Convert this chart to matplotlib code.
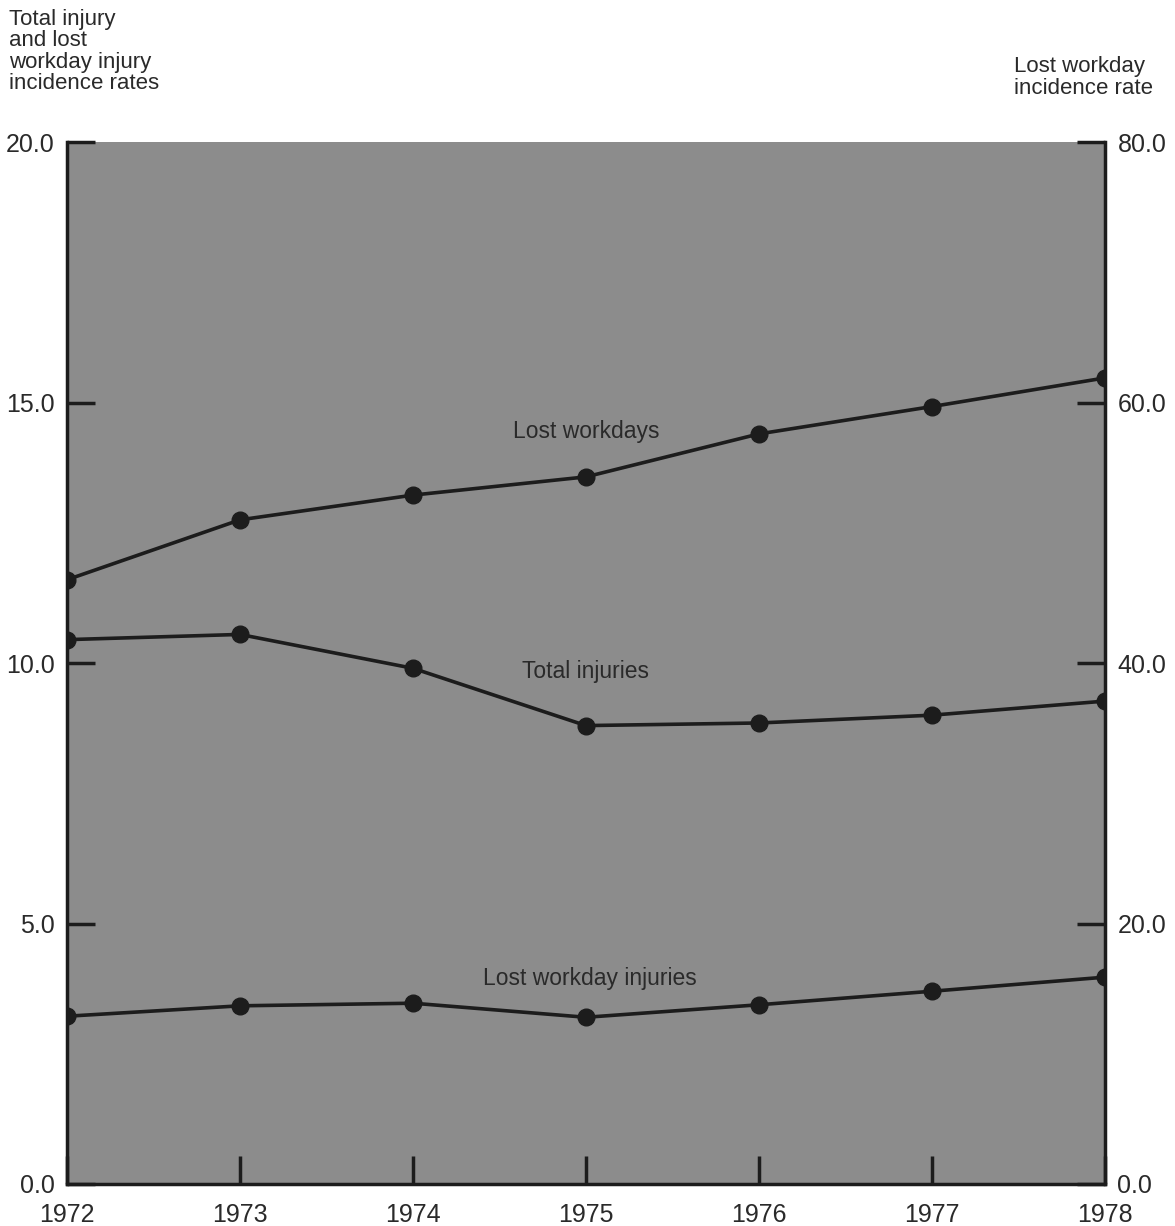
import matplotlib.pyplot as plt

years = [1972, 1973, 1974, 1975, 1976, 1977, 1978]
total_injuries = [10.45, 10.55, 9.9, 8.8, 8.85, 9.0, 9.27]
lost_workday_injuries = [3.22, 3.42, 3.47, 3.2, 3.44, 3.7, 3.97]
lost_workdays = [46.4, 51.0, 52.9, 54.3, 57.6, 59.7, 61.9]

left_ticks = [0, 5, 10, 15, 20]
right_ticks = [0, 20, 40, 60, 80]

plt.rcParams['font.family'] = ['Liberation Sans', 'DejaVu Sans']
ink = '#1c1c1c'
txt = '#2a2a2a'

fig = plt.figure(figsize=(11.75, 12.26), dpi=100)
ax = fig.add_axes([0.057, 0.0343, 0.8834, 0.8497])
ax.set_facecolor('#8c8c8c')
ax2 = ax.twinx()

ax.plot(years, total_injuries, color=ink, lw=2.6, marker='o', ms=12)
ax.plot(years, lost_workday_injuries, color=ink, lw=2.6, marker='o', ms=12)
ax2.plot(years, lost_workdays, color=ink, lw=2.6, marker='o', ms=12)

for a in (ax, ax2):
    a.set_xlim(1972, 1978)
    for s in a.spines.values():
        s.set_visible(False)
    a.tick_params(direction='in', length=20, width=2.5, color=ink,
                  labelsize=18, labelcolor=txt)
ax.spines['left'].set_visible(True)
ax.spines['bottom'].set_visible(True)
ax2.spines['right'].set_visible(True)
for s in (ax.spines['left'], ax.spines['bottom'], ax2.spines['right']):
    s.set_linewidth(2.5)
    s.set_color(ink)

ax.set_ylim(0, 20)
ax.set_yticks(left_ticks)
ax.set_yticklabels(['%.1f' % v for v in left_ticks])
ax.tick_params(axis='y', pad=9)
ax.set_xticks(years)
ax.set_xticklabels([str(y) for y in years])
ax.tick_params(axis='x', pad=14)
ax2.set_ylim(0, 80)
ax2.set_yticks(right_ticks)
ax2.set_yticklabels(['%.1f' % v for v in right_ticks])
ax2.tick_params(axis='y', pad=9)

ax.text(1975, 14.45, 'Lost workdays', fontsize=16.5, ha='center', va='center', color=txt)
ax.text(1975, 9.83, 'Total injuries', fontsize=16.5, ha='center', va='center', color=txt)
ax.text(1975.02, 3.95, 'Lost workday injuries', fontsize=16.5, ha='center', va='center', color=txt)

fig.text(0.008, 0.993, 'Total injury\nand lost\nworkday injury\nincidence rates',
         fontsize=16, ha='left', va='top', linespacing=1.03, color=txt)
fig.text(0.863, 0.954, 'Lost workday\nincidence rate',
         fontsize=16, ha='left', va='top', linespacing=1.03, color=txt)

fig.savefig('out.png', dpi=100)
